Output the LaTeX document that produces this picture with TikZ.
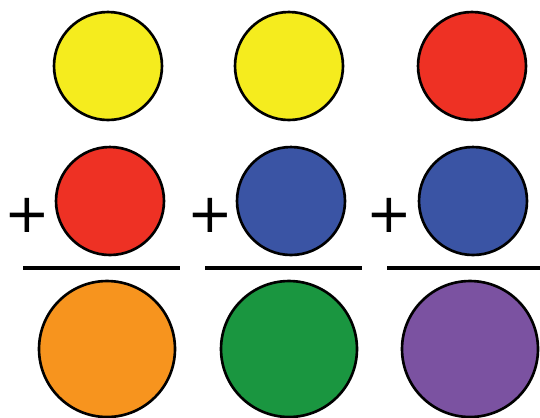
\documentclass[tikz,border=0pt]{standalone}
\usepackage{fontspec}
\newfontfamily\plusfont{DejaVu Sans}
\usepackage{tikz}

\definecolor{pyellow}{HTML}{F5EC1E}
\definecolor{pred}{HTML}{EE3124}
\definecolor{pblue}{HTML}{3A54A4}
\definecolor{porange}{HTML}{F7941E}
\definecolor{pgreen}{HTML}{1A9640}
\definecolor{ppurple}{HTML}{7B52A1}

\begin{document}
\begin{tikzpicture}[x=0.02cm,y=-0.02cm,
    paint/.style={circle,draw=black,line width=1.5pt,minimum size=2.16cm,inner sep=0pt},
    mix/.style={paint,minimum size=2.72cm},
    plussign/.style={font=\plusfont\fontsize{31}{31}\selectfont,inner sep=0pt},
    bar/.style={line width=2.3pt}]
                \useasboundingbox (0,0) rectangle (540,417);

                \node[paint,fill=pyellow] (y1) at (108,66) {};
                \node[paint,fill=pyellow] (y2) at (289,66) {};
                \node[paint,fill=pred] (r3) at (472,66) {};

                \node[paint,fill=pred] (r1) at (110,201) {};
                \node[paint,fill=pblue] (b2) at (291,201) {};
                \node[paint,fill=pblue] (b3) at (473,201) {};

                \node[plussign] (p1) at (27,215) {+};
                \node[plussign] (p2) at (210,215) {+};
                \node[plussign] (p3) at (389,215) {+};

                \draw[bar] (23,268) -- (180,268);
                \draw[bar] (205,268) -- (362,268);
                \draw[bar] (387,268) -- (540,268);

                \node[mix,fill=porange] (o1) at (107,349) {};
                \node[mix,fill=pgreen] (g2) at (289,349) {};
                \node[mix,fill=ppurple] (v3) at (470,349) {};
            \end{tikzpicture}
\end{document}
